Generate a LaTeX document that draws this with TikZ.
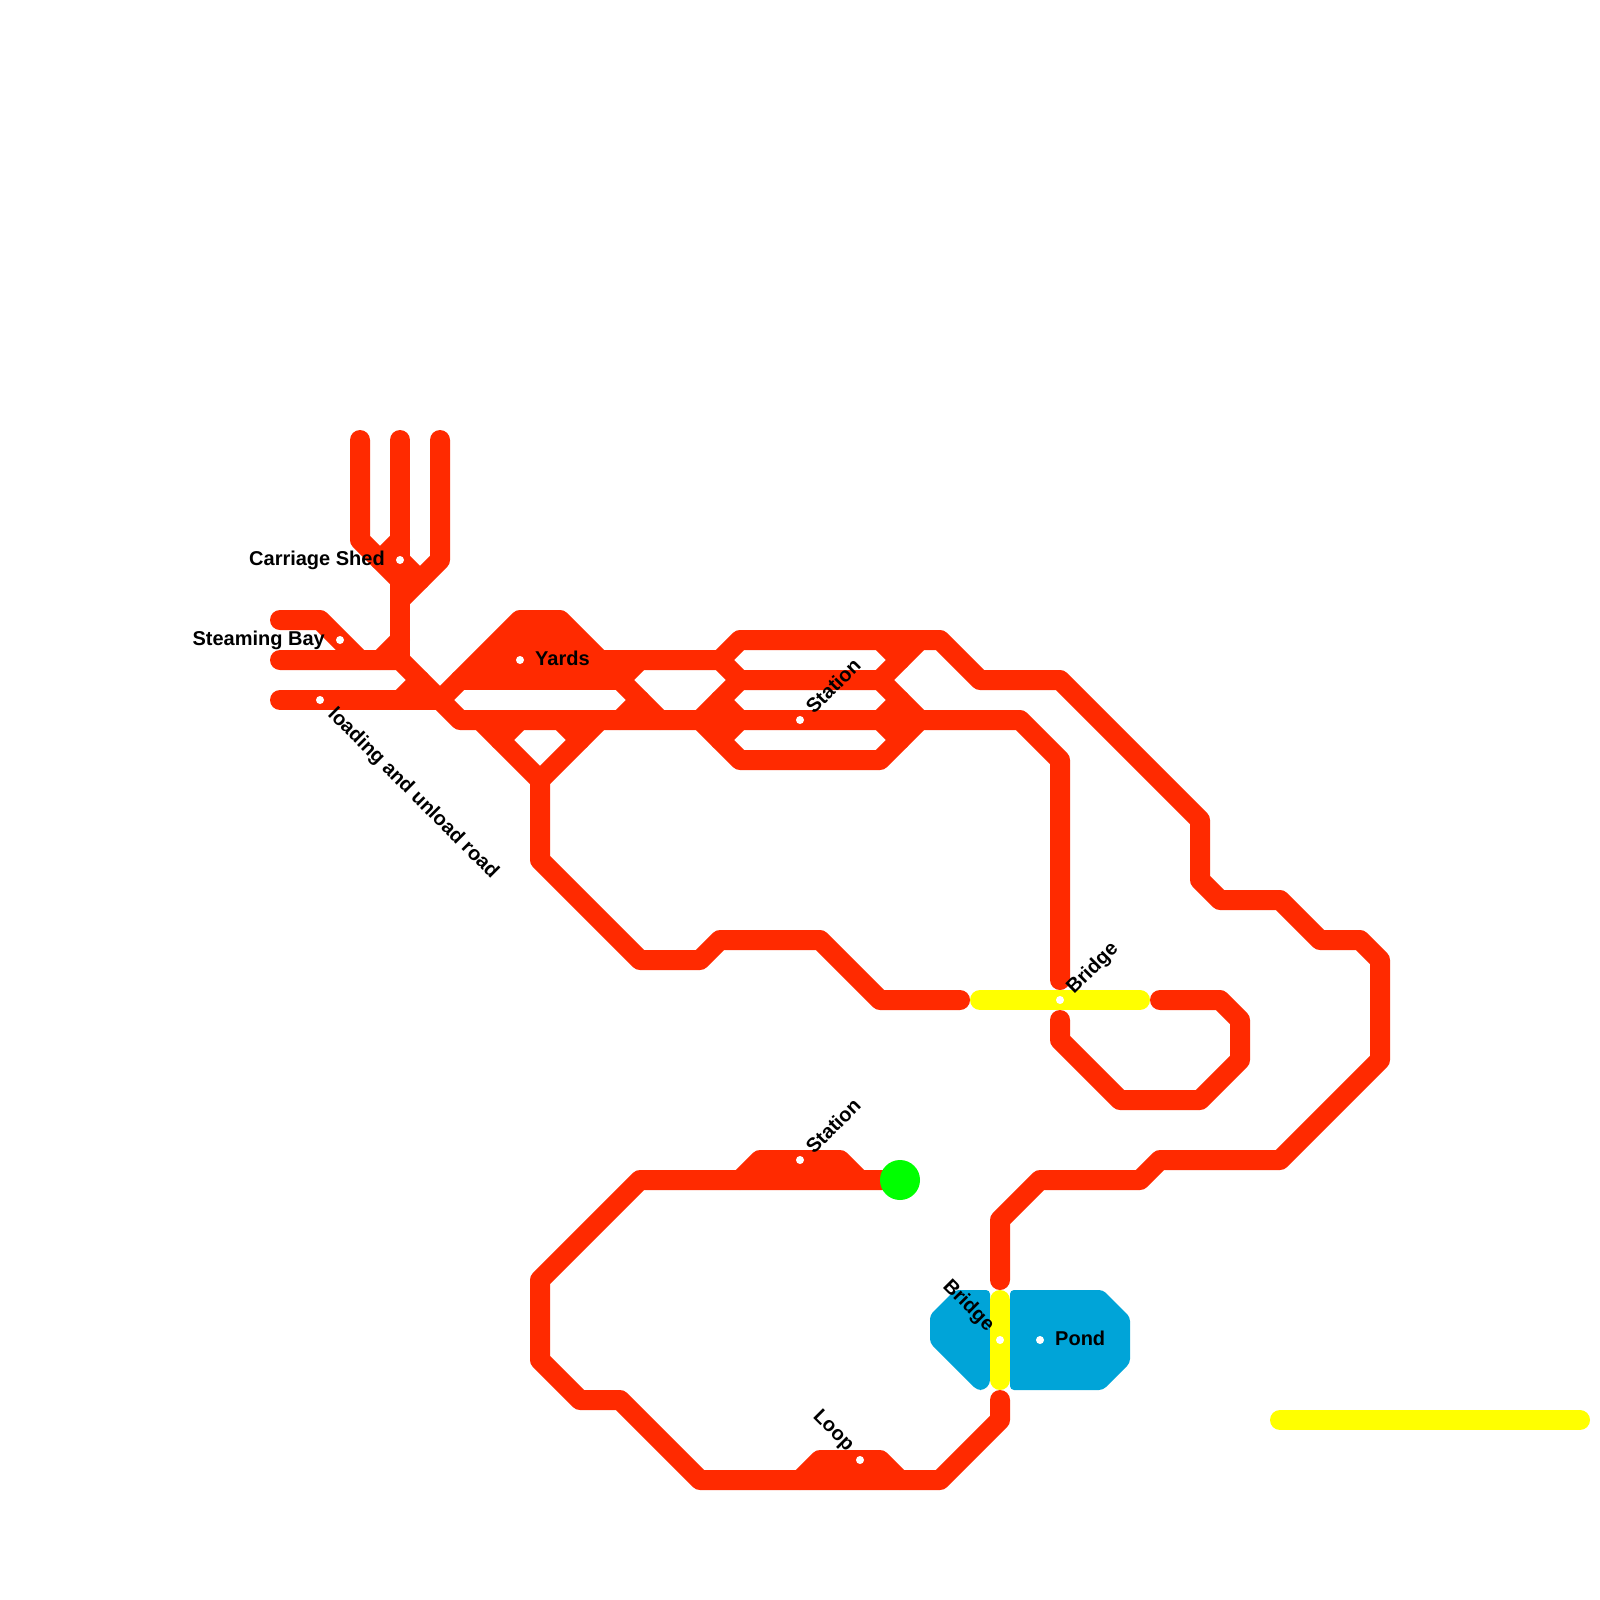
\documentclass[tikz,border=0pt]{standalone}
\usepackage{fontspec}
\setmainfont{Liberation Sans}[Ligatures=TeX]
\definecolor{trk}{HTML}{FF2A00}
\definecolor{yel}{HTML}{FFFF00}
\definecolor{pondc}{HTML}{00A4D8}
\definecolor{go}{HTML}{00FF00}
\tikzset{
  trk/.style={draw=trk,line width=20pt,line cap=round,line join=round},
  ylw/.style={draw=yel,line width=20pt,line cap=round,line join=round},
  water/.style={fill=pondc,rounded corners=4pt},
  solidarea/.style={fill=trk},
  stn/.style={circle,fill=white,inner sep=0pt,minimum size=8pt},
  lab/.style={font=\bfseries\fontsize{20}{22}\selectfont,text=black,inner sep=0pt},
}
\begin{document}
\begin{tikzpicture}[x=1pt,y=-1pt]
\useasboundingbox (0,0) rectangle (1600,1600);
% pond
\path[water] (990,1290) -- (955,1290) -- (930,1315) -- (930,1343) -- (977,1390) -- (984,1390) -- (990,1384) -- cycle;
\path[water] (1010,1290) -- (1103,1290) -- (1130,1317) -- (1130,1363) -- (1103,1390) -- (1010,1390) -- cycle;
% fork and sidings
\draw[trk] (360,440) -- (360,540) -- (400,580);
\draw[trk] (400,440) -- (400,660);
\draw[trk] (440,440) -- (440,560) -- (400,600);
\draw[trk] (380,560) -- (400,540);
\draw[trk] (400,560) -- (420,580);
\draw[trk] (280,620) -- (320,620) -- (360,660);
\draw[trk] (280,660) -- (400,660) -- (460,720) -- (1020,720) -- (1060,760) -- (1060,980);
\draw[trk] (380,660) -- (400,640);
\draw[trk] (280,700) -- (440,700);
\draw[trk] (400,700) -- (420,680);
% yards
\path[solidarea] (460,680) -- (520,620) -- (560,620) -- (620,680) -- cycle;
\draw[trk] (440,700) -- (520,620) -- (560,620) -- (600,660) -- (720,660);
\draw[trk] (460,680) -- (620,680);
\draw[trk] (620,680) -- (640,660);
\draw[trk] (620,680) -- (660,720);
\draw[trk] (620,720) -- (640,700);
% below yards
\draw[trk] (480,720) -- (540,780) -- (600,720);
\draw[trk] (500,740) -- (520,720);
\draw[trk] (560,720) -- (580,740);
\draw[trk] (540,780) -- (540,860) -- (640,960) -- (700,960) -- (720,940) -- (820,940) -- (880,1000) -- (960,1000);
% station loops
\draw[trk] (720,660) -- (740,640) -- (940,640) -- (980,680) -- (1060,680) -- (1200,820) -- (1200,880) -- (1220,900) -- (1280,900) -- (1320,940) -- (1360,940) -- (1380,960) -- (1380,1060) -- (1280,1160) -- (1160,1160) -- (1140,1180) -- (1040,1180) -- (1000,1220) -- (1000,1280);
\draw[trk] (720,660) -- (740,680) -- (880,680);
\draw[trk] (700,720) -- (740,680);
\draw[trk] (720,700) -- (740,720);
\draw[trk] (720,740) -- (740,720);
\draw[trk] (700,720) -- (740,760) -- (880,760) -- (920,720);
\draw[trk] (880,640) -- (900,660);
\draw[trk] (880,680) -- (920,640);
\draw[trk] (880,680) -- (920,720);
\draw[trk] (880,720) -- (900,700);
\draw[trk] (880,720) -- (900,740);
% lower loop
\draw[trk] (1000,1400) -- (1000,1420) -- (940,1480) -- (700,1480) -- (620,1400) -- (580,1400) -- (540,1360) -- (540,1280) -- (640,1180) -- (900,1180);
\path[solidarea] (740,1180) -- (760,1160) -- (840,1160) -- (860,1180) -- cycle;
\draw[trk] (740,1180) -- (760,1160) -- (840,1160) -- (860,1180);
\path[solidarea] (800,1480) -- (820,1460) -- (880,1460) -- (900,1480) -- cycle;
\draw[trk] (800,1480) -- (820,1460) -- (880,1460) -- (900,1480);
% bridge section
\draw[trk] (1060,1020) -- (1060,1040) -- (1120,1100) -- (1200,1100) -- (1240,1060) -- (1240,1020) -- (1220,1000) -- (1160,1000);
\draw[ylw] (980,1000) -- (1140,1000);
\draw[ylw] (1000,1300) -- (1000,1380);
\draw[ylw] (1280,1420) -- (1580,1420);
% terminus
\node[circle,fill=go,inner sep=0pt,minimum size=40pt] (term) at (900,1180) {};
% stations
\node[stn] (s1) at (400,560) {};
\node[stn] (s2) at (340,640) {};
\node[stn] (s3) at (320,700) {};
\node[stn] (s4) at (520,660) {};
\node[stn] (s5) at (800,720) {};
\node[stn] (s6) at (800,1160) {};
\node[stn] (s7) at (860,1460) {};
\node[stn] (s8) at (1060,1000) {};
\node[stn] (s9) at (1000,1340) {};
\node[stn] (s10) at (1040,1340) {};
% labels
\node[lab,anchor=base east] (l1) at (385,565) {Carriage Shed};
\node[lab,anchor=base east] (l2) at (325,645) {Steaming Bay};
\node[lab,anchor=base west,rotate=-45] (l3) at (327,715) {loading and unload road};
\node[lab,anchor=base west] (l4) at (535,665) {Yards};
\node[lab,anchor=base west,rotate=45] (l5) at (814,715) {Station};
\node[lab,anchor=base west,rotate=45] (l6) at (814,1155) {Station};
\node[lab,anchor=base east,rotate=-45] (l7) at (847,1452) {Loop};
\node[lab,anchor=base west,rotate=45] (l8) at (1074,995) {Bridge};
\node[lab,anchor=base east,rotate=-45] (l9) at (987,1332) {Bridge};
\node[lab,anchor=base west] (l10) at (1055,1345) {Pond};
\end{tikzpicture}
\end{document}
